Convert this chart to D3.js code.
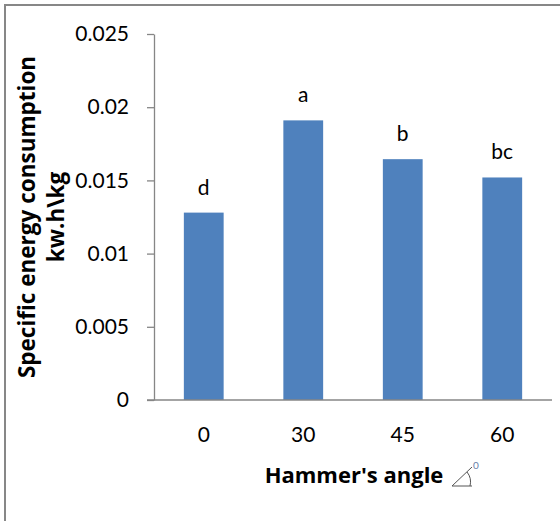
<!DOCTYPE html>
<html>
<head>
  <meta charset="utf-8">
  <title>Specific energy consumption by hammer angle</title>
  <script src="https://d3js.org/d3.v7.min.js"></script>
  <style>
    body { margin: 0; background: #fff; }
    text { font-family: Lato, "Open Sans", sans-serif; fill: #000; }
    .bar { fill: #4f81bd; }
    .title { font-family: "Open Sans", sans-serif; font-weight: bold; font-size: 22px; }
  </style>
</head>
<body>
  <div id="chart"></div>
  <script>
// data
var angles = ["0", "30", "45", "60"];
var energy = [0.0128, 0.0191, 0.01645, 0.0152];
var letters = ["d", "a", "b", "bc"];
var yTicks = [0, 0.005, 0.01, 0.015, 0.02, 0.025];

var W = 560, H = 521;

var svg = d3.select("#chart")
  .append("svg")
    .attr("width", W)
    .attr("height", H);

// outer frame (only top and left edges show inside the picture)
svg.append("rect")
  .attr("x", 5).attr("y", 5)
  .attr("width", 700).attr("height", 700)
  .attr("fill", "none")
  .attr("stroke", "#878787")
  .attr("stroke-width", 2);

var y = d3.scaleLinear().domain([0, 0.025]).range([400, 34]);

var x = d3.scaleBand()
  .domain(angles)
  .range([154, 552])
  .paddingInner(0.6)
  .paddingOuter(0.3);

// y axis
var yAxis = svg.append("g")
  .attr("transform", "translate(154,0)")
  .call(d3.axisLeft(y).tickValues(yTicks).tickSize(7).tickSizeOuter(0)
    .tickFormat(function(d) { return d === 0 ? "0" : String(+d.toFixed(3)); }));
yAxis.select(".domain").attr("stroke", "#868686").attr("stroke-width", 1.3);
yAxis.selectAll(".tick line").attr("stroke", "#868686").attr("stroke-width", 1.3);
yAxis.selectAll(".tick text")
  .attr("x", -25)
  .style("font-size", "21px")
  .style("font-family", "Lato, sans-serif")
  .attr("fill", "#000");

// bars
svg.selectAll(".bar")
  .data(energy)
  .enter()
  .append("rect")
    .attr("class", "bar")
    .attr("x", function(d, i) { return x(angles[i]); })
    .attr("y", function(d) { return y(d); })
    .attr("width", x.bandwidth())
    .attr("height", function(d) { return y(0) - y(d); });

// x axis
var xAxis = svg.append("g")
  .attr("transform", "translate(0,400)")
  .call(d3.axisBottom(x).tickSize(0).tickSizeOuter(0));
xAxis.select(".domain").attr("d", "M147,0H552").attr("stroke", "#868686").attr("stroke-width", 1.3);
xAxis.selectAll(".tick text")
  .attr("y", 42)
  .attr("dy", null)
  .style("font-size", "21px")
  .style("font-family", "Lato, sans-serif")
  .attr("fill", "#000");

// significance letters
svg.selectAll(".lbl")
  .data(energy)
  .enter()
  .append("text")
    .attr("class", "lbl")
    .attr("x", function(d, i) { return x(angles[i]) + x.bandwidth() / 2; })
    .attr("y", function(d) { return y(d) - 18; })
    .attr("text-anchor", "middle")
    .style("font-size", "21px")
    .text(function(d, i) { return letters[i]; });

// x title
svg.append("text")
  .attr("class", "title")
  .attr("x", 354).attr("y", 483)
  .attr("text-anchor", "middle")
  .text("Hammer's angle");

// angle sign
var ang = svg.append("g").attr("stroke", "#555").attr("fill", "none").attr("stroke-width", 1);
ang.append("path").attr("d", "M452,486H472M452,486L472,467");
ang.append("path").attr("d", "M467,472A16,16 0 0 1 470,486");
svg.append("text")
  .attr("x", 473).attr("y", 469)
  .style("font-size", "10px")
  .style("fill", "#6a7fa8")
  .text("0");

// y title
var yt = svg.append("text")
  .attr("class", "title")
  .attr("transform", "translate(0,217) rotate(-90)")
  .attr("text-anchor", "middle")
  .style("font-size", "22.5px");
yt.append("tspan").attr("x", 0).attr("y", 35).text("Specific energy consumption");
yt.append("tspan").attr("x", 0).attr("y", 64).text("kw.h\\kg");
  </script>
</body>
</html>
